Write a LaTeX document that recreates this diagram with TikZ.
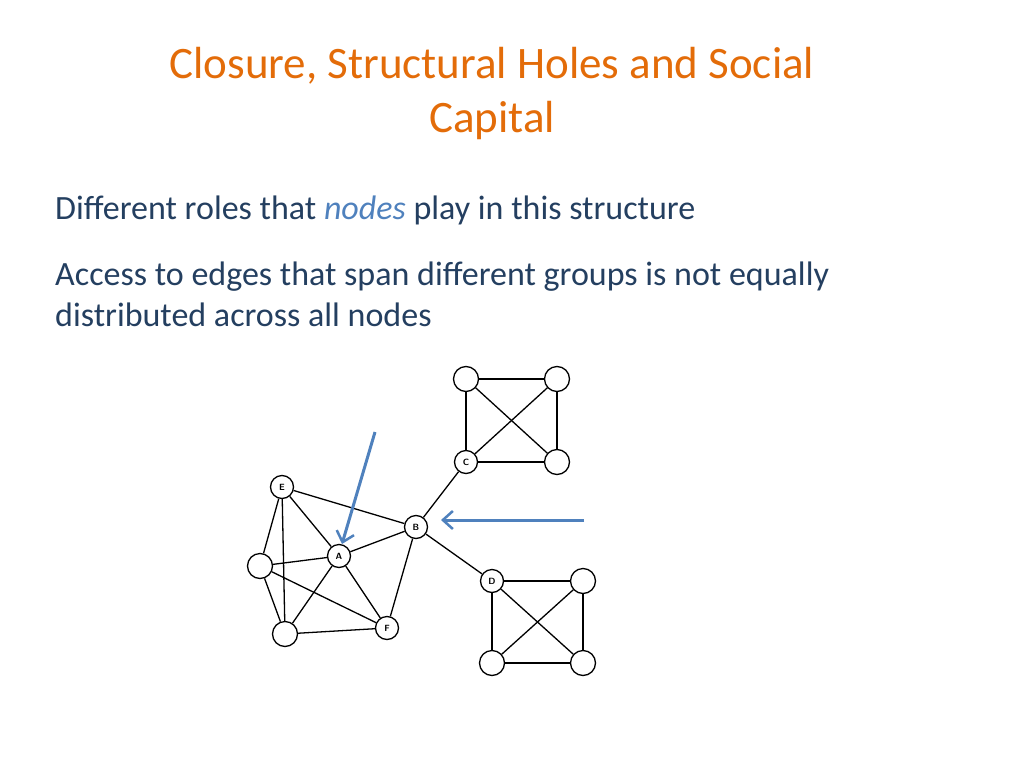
\documentclass[tikz,border=0pt]{standalone}
\usepackage{fontspec}
\setmainfont{Carlito}
\usetikzlibrary{arrows.meta}
\definecolor{ttl}{HTML}{E36C09}
\definecolor{bod}{HTML}{243F60}
\definecolor{acc}{HTML}{4F81BD}
\begin{document}
\begin{tikzpicture}[x=1pt,y=-1pt,
 lab/.style={circle,draw=black,fill=white,line width=1.3pt,minimum size=23pt,inner sep=0pt,font=\sffamily\bfseries\fontsize{9}{9}\selectfont},
 blank/.style={circle,draw=black,fill=white,line width=1.3pt,minimum size=25pt,inner sep=0pt},
 edge/.style={line width=1.3pt},
 arr/.style={acc,line width=3pt,-{Straight Barb[length=10pt,width=18pt,line width=2.5pt]}}]
\useasboundingbox (0,0) rectangle (1024,768);
\node[ttl,font=\fontsize{45}{54}\selectfont,align=center] (t) at (492,94) {Closure, Structural Holes and Social\\Capital};
\node[bod,font=\fontsize{34}{40}\selectfont,anchor=west,inner sep=0pt] (l1) at (55,210) {Different roles that \textcolor{acc}{\itshape nodes} play in this structure};
\node[bod,font=\fontsize{34}{41}\selectfont,anchor=west,align=left,inner sep=0pt] (l2) at (55,294) {Access to edges that span different groups is not equally\\distributed across all nodes};
\foreach \a/\b in {}{}
\coordinate (pE) at (282,487);
\node[lab] (E) at (282,487) {E};
\node[lab] (A) at (339,556) {A};
\node[lab] (B) at (416,527) {B};
\node[lab] (C) at (466,462) {C};
\node[lab] (F) at (387,628) {F};
\node[lab] (D) at (492,581) {D};
\node[blank] (L) at (260,566) {};
\node[blank] (BL) at (285,634) {};
\node[blank] (CTL) at (466,379) {};
\node[blank] (CTR) at (557,379) {};
\node[blank] (CBR) at (557,462) {};
\node[blank] (DTR) at (583,581) {};
\node[blank] (DBL) at (492,663) {};
\node[blank] (DBR) at (583,663) {};
\foreach \a/\b in {E/L,E/BL,E/A,E/B,L/A,L/BL,L/F,A/B,A/F,A/BL,B/F,BL/F,B/C,B/D,
 CTL/CTR,CTL/C,CTR/CBR,C/CBR,CTL/CBR,CTR/C,D/DTR,D/DBL,DTR/DBR,DBL/DBR,D/DBR,DTR/DBL}
 \draw[edge] (\a) -- (\b);
\coordinate (a1) at (375,432);
\coordinate (a1e) at (342,544);
\coordinate (a2) at (584,520);
\coordinate (a2e) at (441,520);
\draw[arr] (a1) -- (a1e);
\draw[arr] (a2) -- (a2e);
\end{tikzpicture}
\end{document}
